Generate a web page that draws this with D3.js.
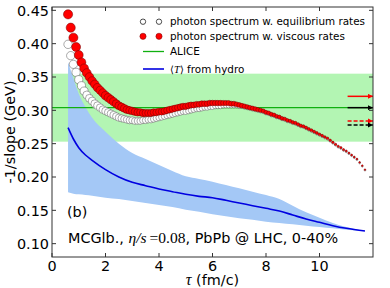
<!DOCTYPE html>
<html>
<head>
<meta charset="utf-8">
<script src="https://cdn.jsdelivr.net/npm/d3@7"></script>
<style>
body { margin: 0; background: #fff; }
text { font-family: "DejaVu Sans", sans-serif; fill: #000; }
.math { font-family: "Liberation Serif", serif; }
</style>
</head>
<body>
<svg width="390" height="288"></svg>
<script>
// photon -1/slope vs tau
const tau = [0.6,0.7,0.8,0.9,1.0,1.1,1.2,1.3,1.4,1.5,1.6,1.7,1.8,1.9,2.0,2.1,2.2,2.3,2.4,2.5,
  2.6,2.7,2.8,2.9,3.0,3.1,3.2,3.3,3.4,3.5,3.6,3.7,3.8,3.9,4.0,4.1,4.2,4.3,4.4,4.5,
  4.6,4.7,4.8,4.9,5.0,5.1,5.2,5.3,5.4,5.5,5.6,5.7,5.8,5.9,6.0,6.1,6.2,6.3,6.4,6.5,
  6.6,6.7,6.8,6.9,7.0,7.1,7.2,7.3,7.4,7.5,7.6,7.7,7.8,7.9,8.0,8.1,8.2,8.3,8.4,8.5,
  8.6,8.7,8.8,8.9,9.0,9.1,9.2,9.3,9.4,9.5,9.6,9.7,9.8,9.9,10.0,10.1,10.2,10.3,10.4,10.5,
  10.6,10.7,10.8,10.9,11.0,11.1,11.2,11.3,11.4,11.5,11.6,11.7];

const viscous = [0.444,0.424,0.409,0.395,0.383,0.372,0.363,0.356,0.350,0.344,0.339,0.334,0.330,0.326,0.322,0.319,0.316,0.313,0.310,0.307,
  0.305,0.303,0.301,0.300,0.299,0.298,0.297,0.297,0.296,0.296,0.296,0.296,0.297,0.297,0.298,0.298,0.299,0.300,0.301,0.302,
  0.303,0.304,0.305,0.306,0.306,0.307,0.308,0.308,0.309,0.309,0.310,0.310,0.310,0.311,0.311,0.311,0.311,0.311,0.311,0.311,
  0.311,0.310,0.310,0.309,0.308,0.307,0.306,0.305,0.304,0.303,0.302,0.301,0.300,0.299,0.297,0.296,0.294,0.293,0.291,0.290,
  0.288,0.287,0.285,0.284,0.282,0.281,0.279,0.277,0.276,0.274,0.272,0.270,0.268,0.266,0.264,0.262,0.260,0.258,0.255,0.252,
  0.249,0.246,0.244,0.241,0.239,0.236,0.233,0.230,0.227,0.222,0.217,0.211];

const equilibrium = [0.399,0.382,0.369,0.357,0.346,0.337,0.329,0.323,0.318,0.314,0.310,0.307,0.304,0.301,0.299,0.297,0.295,0.293,0.291,0.289,
  0.288,0.287,0.286,0.285,0.285,0.284,0.284,0.284,0.285,0.285,0.286,0.286,0.287,0.288,0.289,0.290,0.291,0.292,0.293,0.294,
  0.295,0.296,0.297,0.298,0.298,0.299,0.300,0.301,0.302,0.302,0.303,0.304,0.304,0.305,0.305,0.306,0.306,0.306,0.307,0.307,
  0.307,0.307,0.307,0.307,0.306,0.306,0.305,0.304,0.303,0.302,0.301,0.300,0.299,0.298,0.296,0.295,0.293,0.292,0.290,0.289,
  0.287,0.286,0.284,0.283,0.281,0.280,0.278,0.276,0.275,0.273,0.271,0.269,0.267,0.265,0.263,0.261,0.259,0.257,0.254,0.251,
  0.248,0.245,0.243,0.240,0.238,0.235,0.232,0.229,0.226,0.221,0.216,0.210];

// <T> from hydro with its spread
const hydroTau   = [0.6,0.8,1.0,1.25,1.5,2.0,2.5,3.0,3.5,4.0,4.5,5.0,5.5,6.0,6.5,7.0,7.5,8.0,8.5,9.0,9.5,10.0,10.5,11.0,11.7];
const hydroT     = [0.274,0.257,0.244,0.233,0.225,0.211,0.200,0.192,0.187,0.182,0.178,0.174,0.171,0.169,0.165,0.161,0.157,0.153,0.149,0.143,0.137,0.132,0.127,0.123,0.119];
const hydroUpper = [0.372,0.348,0.325,0.305,0.289,0.268,0.250,0.236,0.227,0.218,0.209,0.201,0.197,0.193,0.188,0.183,0.178,0.173,0.167,0.157,0.147,0.139,0.131,0.125,0.119];
const hydroLower = [0.177,0.175,0.174,0.173,0.172,0.169,0.167,0.164,0.161,0.158,0.155,0.151,0.148,0.144,0.141,0.138,0.136,0.133,0.131,0.129,0.127,0.125,0.123,0.121,0.119];

// ALICE value and error
const aliceT = 0.304;
const aliceErr = 0.051;

// arrows on the right edge
const arrowY = [0.321, 0.304, 0.284, 0.278];
const arrowColor = ["#ff0000", "#000000", "#ff0000", "#000000"];
const arrowDashed = [false, false, true, true];

const xTicks = [0, 2, 4, 6, 8, 10];
const yTicks = [0.10, 0.15, 0.20, 0.25, 0.30, 0.35, 0.40, 0.45];

var svg = d3.select("svg");
const mLeft = 52, mRight = 373, mTop = 7, mBottom = 257;

const x = d3.scaleLinear().domain([0, 12]).range([mLeft, mRight]);
const y = d3.scaleLinear().domain([0.08, 0.455]).range([mBottom, mTop]);

const defs = svg.append("defs");
defs.append("clipPath").attr("id", "clip")
  .append("rect").attr("x", mLeft).attr("y", mTop).attr("width", mRight - mLeft).attr("height", mBottom - mTop);
["#ff0000", "#000000"].forEach((c, i) => {
  defs.append("marker").attr("id", "head" + i)
    .attr("viewBox", "0 0 10 10").attr("refX", 10).attr("refY", 5)
    .attr("markerWidth", 3.4).attr("markerHeight", 3.4).attr("orient", "auto")
    .attr("markerUnits", "strokeWidth")
    .append("path").attr("d", "M0,0L10,5L0,10z").attr("fill", c);
});

const plot = svg.append("g").attr("clip-path", "url(#clip)");

// ALICE band
plot.append("rect")
  .attr("x", x(0)).attr("width", x(12) - x(0))
  .attr("y", y(aliceT + aliceErr)).attr("height", y(aliceT - aliceErr) - y(aliceT + aliceErr))
  .attr("fill", "#b3f5b3");

// hydro band
const band = hydroTau.map((t, i) => ({ t: t, lo: hydroLower[i], hi: hydroUpper[i] }));
plot.append("path").datum(band)
  .attr("d", d3.area().x(d => x(d.t)).y0(d => y(d.lo)).y1(d => y(d.hi)).curve(d3.curveMonotoneX))
  .attr("fill", "#a4c8f6");

// ALICE central line
plot.append("line")
  .attr("x1", x(0)).attr("x2", x(12)).attr("y1", y(aliceT)).attr("y2", y(aliceT))
  .attr("stroke", "#10b010").attr("stroke-width", 1.3);

// hydro mean
plot.append("path").datum(hydroTau.map((t, i) => [t, hydroT[i]]))
  .attr("d", d3.line().x(d => x(d[0])).y(d => y(d[1])).curve(d3.curveMonotoneX))
  .attr("fill", "none").attr("stroke", "#0000e0").attr("stroke-width", 1.6);

const rEq = d3.scaleLinear().domain([0.6, 11.7]).range([4.2, 0.8]);
const rVisc = d3.scaleLinear().domain([0.6, 11.7]).range([4.6, 0.8]);

plot.append("g").selectAll("circle")
  .data(tau.map((t, i) => [t, equilibrium[i]]))
  .enter().append("circle")
  .attr("cx", d => x(d[0])).attr("cy", d => y(d[1]))
  .attr("r", d => rEq(d[0]))
  .attr("fill", "#fff").attr("stroke", "#555").attr("stroke-width", 0.5);

plot.append("g").selectAll("circle")
  .data(tau.map((t, i) => [t, viscous[i]]))
  .enter().append("circle")
  .attr("cx", d => x(d[0])).attr("cy", d => y(d[1]))
  .attr("r", d => rVisc(d[0]))
  .attr("fill", "#ff0000").attr("stroke", "#700000").attr("stroke-width", 0.5);

// arrows
svg.append("g").selectAll("line")
  .data(arrowY)
  .enter().append("line")
  .attr("x1", x(11.05)).attr("x2", x(12))
  .attr("y1", d => y(d)).attr("y2", d => y(d))
  .attr("stroke", (d, i) => arrowColor[i])
  .attr("stroke-width", 1.5)
  .attr("stroke-dasharray", (d, i) => arrowDashed[i] ? "4,2" : null)
  .attr("marker-end", (d, i) => arrowColor[i] === "#ff0000" ? "url(#head0)" : "url(#head1)");

// frame and ticks
const axisColor = "#333";
svg.append("rect").attr("x", mLeft).attr("y", mTop).attr("width", mRight - mLeft).attr("height", mBottom - mTop)
  .attr("fill", "none").attr("stroke", axisColor).attr("stroke-width", 1);

const tl = 4;
const tg = svg.append("g").attr("stroke", axisColor).attr("stroke-width", 1);
xTicks.forEach(t => {
  tg.append("line").attr("x1", x(t)).attr("x2", x(t)).attr("y1", mBottom).attr("y2", mBottom - tl);
  tg.append("line").attr("x1", x(t)).attr("x2", x(t)).attr("y1", mTop).attr("y2", mTop + tl);
});
yTicks.forEach(t => {
  tg.append("line").attr("y1", y(t)).attr("y2", y(t)).attr("x1", mLeft).attr("x2", mLeft + tl);
  tg.append("line").attr("y1", y(t)).attr("y2", y(t)).attr("x1", mRight).attr("x2", mRight - tl);
});

svg.append("g").selectAll("text").data(xTicks).enter().append("text")
  .attr("x", d => x(d)).attr("y", 270.5)
  .attr("text-anchor", "middle").attr("font-size", 14.4)
  .text(d => d);

svg.append("g").selectAll("text").data(yTicks).enter().append("text")
  .attr("x", 49).attr("y", d => y(d)).attr("dy", "0.36em")
  .attr("text-anchor", "end").attr("font-size", 14.4)
  .text(d => d3.format(".2f")(d));

// axis labels
svg.append("text")
  .attr("transform", "translate(15," + ((mTop + mBottom) / 2) + ") rotate(-90)")
  .attr("text-anchor", "middle").attr("font-size", 14.4)
  .text("-1/slope (GeV)");

const xl = svg.append("text").attr("x", (mLeft + mRight) / 2).attr("y", 285)
  .attr("text-anchor", "middle").attr("font-size", 14.4);
xl.append("tspan").attr("class", "math").attr("font-style", "italic").attr("font-size", 16).text("τ");
xl.append("tspan").text(" (fm/c)");

// legend
const lx0 = 143, lx1 = 159, ltx = 170;
const legY = [21.7, 36.3, 51.5, 69];
const lg = svg.append("g");
[lx0, lx1].forEach(cx => {
  lg.append("circle").attr("cx", cx).attr("cy", legY[0]).attr("r", 2.7)
    .attr("fill", "#fff").attr("stroke", "#222").attr("stroke-width", 0.8);
  lg.append("circle").attr("cx", cx).attr("cy", legY[1]).attr("r", 3.1)
    .attr("fill", "#ff0000").attr("stroke", "#700000").attr("stroke-width", 0.5);
});
lg.append("line").attr("x1", lx0).attr("x2", 164).attr("y1", legY[2]).attr("y2", legY[2])
  .attr("stroke", "#10b010").attr("stroke-width", 1.3);
lg.append("line").attr("x1", lx0).attr("x2", 164).attr("y1", legY[3]).attr("y2", legY[3])
  .attr("stroke", "#0000e0").attr("stroke-width", 1.6);

const legText = ["photon spectrum w. equilibrium rates", "photon spectrum w. viscous rates", "ALICE"];
legText.forEach((s, i) => {
  lg.append("text").attr("x", ltx).attr("y", legY[i]).attr("dy", "0.36em")
    .attr("font-size", 10.4).text(s);
});
const lt = lg.append("text").attr("x", ltx).attr("y", legY[3]).attr("dy", "0.36em").attr("font-size", 10.4);
lt.append("tspan").attr("class", "math").text("⟨");
lt.append("tspan").attr("class", "math").attr("font-style", "italic").text("T");
lt.append("tspan").attr("class", "math").text("⟩");
lt.append("tspan").text(" from hydro");

// annotations
svg.append("text").attr("x", 67).attr("y", 217).attr("font-size", 14.4).text("(b)");
const ann = svg.append("text").attr("x", 68).attr("y", 243).attr("font-size", 14.4);
ann.append("tspan").text("MCGlb., ");
ann.append("tspan").attr("class", "math").attr("font-style", "italic").attr("font-size", 15.5).text("η/s");
ann.append("tspan").attr("class", "math").attr("font-size", 15.5).text("\u2009=0.08");
ann.append("tspan").text(", PbPb @ LHC, 0-40%");
</script>
</body>
</html>
